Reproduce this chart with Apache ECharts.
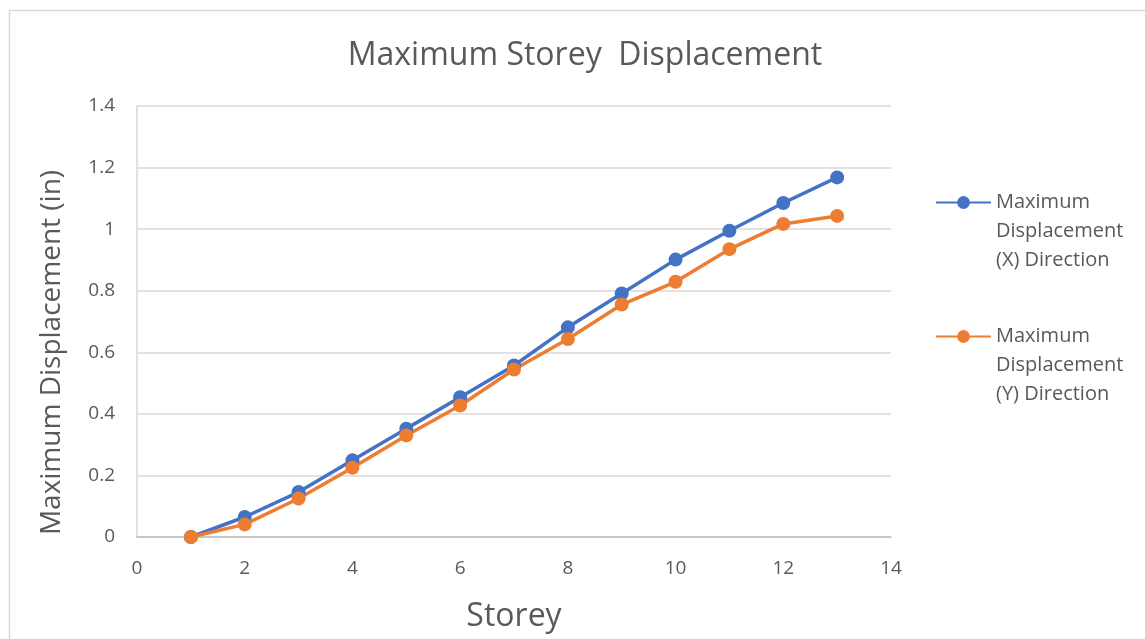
<!DOCTYPE html>
<html>
<head>
<meta charset="utf-8">
<script src="https://cdn.jsdelivr.net/npm/echarts@6/dist/echarts.min.js"></script>
<style>html,body{margin:0;padding:0;background:#fff;}#chart{width:1145px;height:639px;}</style>
</head>
<body>
<div id="chart"></div>
<script>
const storeys = [1, 2, 3, 4, 5, 6, 7, 8, 9, 10, 11, 12, 13];
const dispX = [0, 0.065, 0.146, 0.249, 0.352, 0.454, 0.557, 0.681, 0.791, 0.901, 0.995, 1.085, 1.168];
const dispY = [0, 0.041, 0.125, 0.225, 0.330, 0.427, 0.544, 0.643, 0.755, 0.829, 0.935, 1.017, 1.043];
const seriesNames = ['Maximum Displacement (X) Direction', 'Maximum Displacement (Y) Direction'];
const legendLabels = ['Maximum\nDisplacement\n(X) Direction', 'Maximum\nDisplacement\n(Y) Direction'];
const titleText = 'Maximum Storey  Displacement';
const xName = 'Storey';
const yName = 'Maximum Displacement (in)';

const FONT = 'Open Sans';
const TXT = '#595959';
const chart = echarts.init(document.getElementById('chart'), null, {renderer: 'canvas'});

function legendFor(i, top) {
  return {
    data: [seriesNames[i]],
    left: 935, top: top, padding: 0,
    itemWidth: 55, itemHeight: 16,
    formatter: () => '\n\n' + legendLabels[i],
    textStyle: {color: TXT, fontFamily: FONT, fontSize: 20, lineHeight: 29}
  };
}

chart.setOption({
  animation: false,
  backgroundColor: '#fff',
  graphic: [{type: 'rect', shape: {x: 9.5, y: 10.5, width: 1150, height: 650}, style: {fill: 'none', stroke: '#d9d9d9', lineWidth: 1.5}, silent: true}],
  title: {text: titleText, left: 580, top: 35, textAlign: 'center', textStyle: {color: TXT, fontFamily: FONT, fontSize: 32, fontWeight: 'normal'}},
  legend: [legendFor(0, 130), legendFor(1, 264)],
  grid: {left: 137, right: 254, top: 106, bottom: 102, containLabel: false},
  xAxis: {
    type: 'value', min: 0, max: 14, interval: 2,
    name: xName, nameLocation: 'middle', nameGap: 64,
    nameTextStyle: {color: TXT, fontFamily: FONT, fontSize: 32},
    axisLine: {show: true, lineStyle: {color: '#bfbfbf', width: 1.5}},
    axisTick: {show: false},
    splitLine: {show: false},
    axisLabel: {color: TXT, fontFamily: FONT, fontSize: 19, margin: 22}
  },
  yAxis: {
    type: 'value', min: 0, max: 1.4, interval: 0.2,
    name: yName, nameLocation: 'middle', nameGap: 71,
    nameTextStyle: {color: TXT, fontFamily: FONT, fontSize: 28, padding: [0, 62, 0, 0]},
    axisLine: {show: true, lineStyle: {color: '#d9d9d9', width: 1.5}},
    axisTick: {show: false},
    splitLine: {show: true, lineStyle: {color: '#d9d9d9', width: 1.5}},
    axisLabel: {color: TXT, fontFamily: FONT, fontSize: 19, margin: 22}
  },
  series: [
    {name: seriesNames[0], type: 'line', data: storeys.map((s, i) => [s, dispX[i]]), color: '#4472C4', symbol: 'circle', symbolSize: 14, lineStyle: {width: 3.5}},
    {name: seriesNames[1], type: 'line', data: storeys.map((s, i) => [s, dispY[i]]), color: '#ED7D31', symbol: 'circle', symbolSize: 14, lineStyle: {width: 3.5}}
  ]
});
</script>
</body>
</html>
